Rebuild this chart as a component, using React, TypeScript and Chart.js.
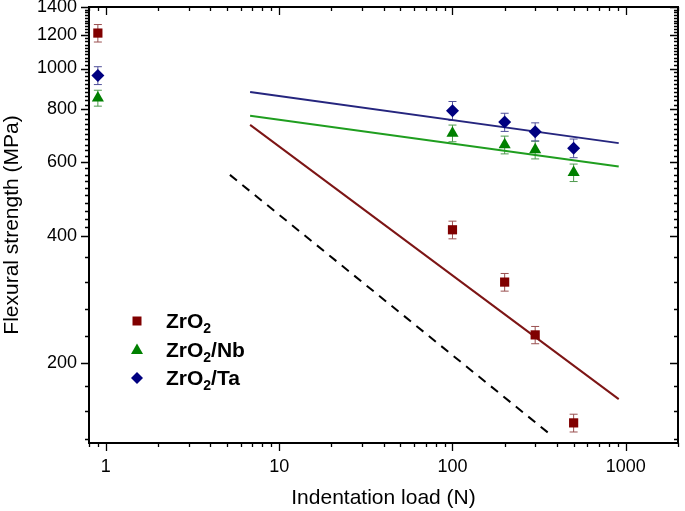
import React, { useEffect, useRef } from 'react';
import { Chart, registerables } from 'chart.js';

Chart.register(...registerables);

// ---- data ----
const loads = [0.9, 100, 200, 300, 500];
const zro2 = [1214, 414, 311, 233, 144];
const zro2Err = [58, 20, 15, 11, 7];
const zro2Nb = [851, 702, 659, 641, 566];
const zro2NbErr = [37, 32, 32, 31, 27];
const zro2Ta = [963, 794, 746, 708, 647];
const zro2TaErr = [47, 41, 37, 35, 33];

const fitLoads = [6.8, 910];
const zro2Fit = [735, 164];
const zro2NbFit = [772, 585];
const zro2TaFit = [879, 665];
const refLoads = [5.2, 360];
const refFit = [559, 136];

const seriesNames = ['ZrO', 'ZrO', 'ZrO'];
const seriesSuffix = ['', '/Nb', '/Ta'];

const xMajor = [1, 10, 100, 1000];
const xMinor = [0.8, 0.9, 2, 3, 4, 5, 6, 7, 8, 9, 20, 30, 40, 50, 60, 70, 80, 90, 200, 300, 400, 500, 600, 700, 800, 900, 2000];
const yMajor = [200, 400, 600, 800, 1000, 1200, 1400];
const yMinor = [
  132, 154, 176, 232, 268, 311, 356,
  420, 440, 460, 480, 500, 520, 540, 560, 580,
  620, 640, 660, 680, 700, 720, 740, 760, 780,
  820, 840, 860, 880, 900, 920, 940, 960, 980,
  1020, 1040, 1060, 1080, 1100, 1120, 1140, 1160, 1180,
  1220, 1240, 1260, 1280, 1300, 1320, 1340, 1360, 1380,
];

const RED = '#800000';
const GREEN = '#008000';
const BLUE = '#000080';
const FONT = "'Liberation Sans', Arial, sans-serif";

const pts = (xs: number[], ys: number[]) => xs.map((x, i) => ({ x, y: ys[i] }));

const errorSets = [
  { ds: 0, errs: zro2Err, color: '#9a5050' },
  { ds: 1, errs: zro2NbErr, color: '#4f9a4f' },
  { ds: 2, errs: zro2TaErr, color: '#50509a' },
];

const errorBarPlugin = {
  id: 'errorBars',
  beforeDatasetsDraw(chart: any) {
    const { ctx, scales } = chart;
    const y = scales.y;
    ctx.save();
    ctx.lineWidth = 1;
    errorSets.forEach(({ ds, errs, color }) => {
      const meta = chart.getDatasetMeta(ds);
      const data = chart.data.datasets[ds].data as any[];
      ctx.strokeStyle = color;
      meta.data.forEach((el: any, i: number) => {
        const v = data[i].y;
        const top = y.getPixelForValue(v + errs[i]);
        const bot = y.getPixelForValue(v - errs[i]);
        const px = el.x;
        ctx.beginPath();
        ctx.moveTo(px, top);
        ctx.lineTo(px, bot);
        ctx.moveTo(px - 4, top);
        ctx.lineTo(px + 4, top);
        ctx.moveTo(px - 4, bot);
        ctx.lineTo(px + 4, bot);
        ctx.stroke();
      });
    });
    ctx.restore();
  },
};

const framePlugin = {
  id: 'frame',
  afterDatasetsDraw(chart: any) {
    const { ctx, chartArea: a, scales } = chart;
    const { x, y } = scales;
    ctx.save();
    ctx.strokeStyle = '#000';
    ctx.lineWidth = 1.3;
    ctx.beginPath();
    const tickX = (v: number, len: number) => {
      const px = Math.round(x.getPixelForValue(v)) + 0.5;
      ctx.moveTo(px, a.bottom);
      ctx.lineTo(px, a.bottom + len);
      ctx.moveTo(px, a.top);
      ctx.lineTo(px, a.top + len);
    };
    const tickY = (v: number, len: number) => {
      const py = Math.round(y.getPixelForValue(v)) + 0.5;
      ctx.moveTo(a.left, py);
      ctx.lineTo(a.left - len, py);
      ctx.moveTo(a.right, py);
      ctx.lineTo(a.right - len, py);
    };
    xMajor.forEach((v) => tickX(v, 8));
    xMinor.forEach((v) => tickX(v, 4));
    yMajor.forEach((v) => tickY(v, 8));
    yMinor.forEach((v) => tickY(v, 4));
    ctx.stroke();
    ctx.lineWidth = 2;
    ctx.strokeRect(a.left, a.top, a.right - a.left, a.bottom - a.top);
    ctx.restore();
  },
};

const drawMarker = (ctx: CanvasRenderingContext2D, kind: string, cx: number, cy: number, color: string) => {
  ctx.fillStyle = color;
  ctx.beginPath();
  if (kind === 'rect') {
    ctx.rect(cx - 4.5, cy - 4.5, 9, 9);
  } else if (kind === 'triangle') {
    ctx.moveTo(cx, cy - 6.5);
    ctx.lineTo(cx + 6, cy + 4);
    ctx.lineTo(cx - 6, cy + 4);
    ctx.closePath();
  } else {
    ctx.moveTo(cx, cy - 6);
    ctx.lineTo(cx + 6, cy);
    ctx.lineTo(cx, cy + 6);
    ctx.lineTo(cx - 6, cy);
    ctx.closePath();
  }
  ctx.fill();
};

const legendPlugin = {
  id: 'customLegend',
  afterDraw(chart: any) {
    const { ctx } = chart;
    const rows = [
      { kind: 'rect', color: RED, y: 321 },
      { kind: 'triangle', color: GREEN, y: 350 },
      { kind: 'rectRot', color: BLUE, y: 378 },
    ];
    ctx.save();
    ctx.textBaseline = 'alphabetic';
    rows.forEach((r, i) => {
      drawMarker(ctx, r.kind, 137, r.y, r.color);
      ctx.fillStyle = '#000';
      let xPos = 166;
      const base = r.y + 7;
      ctx.font = `bold 21px ${FONT}`;
      ctx.fillText(seriesNames[i], xPos, base);
      xPos += ctx.measureText(seriesNames[i]).width;
      ctx.font = `bold 14px ${FONT}`;
      ctx.fillText('2', xPos, base + 5);
      xPos += ctx.measureText('2').width;
      ctx.font = `bold 21px ${FONT}`;
      ctx.fillText(seriesSuffix[i], xPos, base);
    });
    ctx.restore();
  },
};

export default function App() {
  const ref = useRef<HTMLCanvasElement>(null);
  useEffect(() => {
    const chart = new Chart(ref.current as HTMLCanvasElement, {
      type: 'scatter',
      data: {
        datasets: [
          {
            label: 'ZrO2',
            data: pts(loads, zro2),
            pointStyle: 'rect',
            pointRadius: 6.5,
            backgroundColor: RED,
            borderColor: RED,
            borderWidth: 0,
          },
          {
            label: 'ZrO2/Nb',
            data: pts(loads, zro2Nb),
            pointStyle: 'triangle',
            pointRadius: 7,
            backgroundColor: GREEN,
            borderColor: GREEN,
            borderWidth: 0,
          },
          {
            label: 'ZrO2/Ta',
            data: pts(loads, zro2Ta),
            pointStyle: 'rectRot',
            pointRadius: 6.5,
            backgroundColor: BLUE,
            borderColor: BLUE,
            borderWidth: 0,
          },
          {
            type: 'line',
            label: 'ZrO2 fit',
            data: pts(fitLoads, zro2Fit),
            borderColor: '#7d1515',
            borderWidth: 2,
            pointRadius: 0,
            showLine: true,
          } as any,
          {
            type: 'line',
            label: 'ZrO2/Nb fit',
            data: pts(fitLoads, zro2NbFit),
            borderColor: '#1f9e1f',
            borderWidth: 2,
            pointRadius: 0,
            showLine: true,
          } as any,
          {
            type: 'line',
            label: 'ZrO2/Ta fit',
            data: pts(fitLoads, zro2TaFit),
            borderColor: '#25257e',
            borderWidth: 2,
            pointRadius: 0,
            showLine: true,
          } as any,
          {
            type: 'line',
            label: 'reference',
            data: pts(refLoads, refFit),
            borderColor: '#000',
            borderWidth: 2,
            borderDash: [9, 7],
            pointRadius: 0,
            showLine: true,
          } as any,
        ],
      },
      options: {
        responsive: false,
        animation: false,
        layout: { padding: { top: 7, right: 2, left: 0, bottom: 0 } },
        plugins: {
          legend: { display: false },
          tooltip: { enabled: false },
        },
        scales: {
          x: {
            type: 'logarithmic',
            min: 0.8,
            max: 2000,
            grid: { display: false, drawTicks: true, tickLength: 8 },
            border: { display: false },
            afterBuildTicks: (s: any) => {
              s.ticks = [...xMajor].map((v) => ({ value: v }));
            },
            afterFit: (s: any) => {
              s.height = 68;
              s.paddingLeft = 0;
              s.paddingRight = 0;
            },
            ticks: {
              autoSkip: false,
              maxRotation: 0,
              padding: 5,
              color: '#000',
              font: { family: FONT, size: 18 },
              callback: (v: any) => String(v),
            },
            title: {
              display: true,
              text: 'Indentation load (N)',
              color: '#000',
              padding: 0,
              font: { family: FONT, size: 21 },
            },
          },
          y: {
            type: 'logarithmic',
            min: 129,
            max: 1400,
            grid: { display: false, drawTicks: true, tickLength: 8 },
            border: { display: false },
            afterBuildTicks: (s: any) => {
              s.ticks = [...yMajor].map((v) => ({ value: v }));
            },
            afterFit: (s: any) => {
              s.width = 89;
              s.paddingTop = 0;
              s.paddingBottom = 0;
            },
            ticks: {
              autoSkip: false,
              padding: 4,
              color: '#000',
              font: { family: FONT, size: 18 },
              callback: (v: any) => String(v),
            },
            title: {
              display: true,
              text: 'Flexural strength (MPa)',
              color: '#000',
              padding: 0,
              font: { family: FONT, size: 21 },
            },
          },
        },
      },
      plugins: [errorBarPlugin, framePlugin, legendPlugin],
    });
    return () => chart.destroy();
  }, []);
  return (
    <div style={{ position: 'absolute', left: 0, top: 0, width: 685, height: 511, background: '#fff' }}>
      <canvas ref={ref} width={685} height={511} style={{ display: 'block' }} />
    </div>
  );
}
